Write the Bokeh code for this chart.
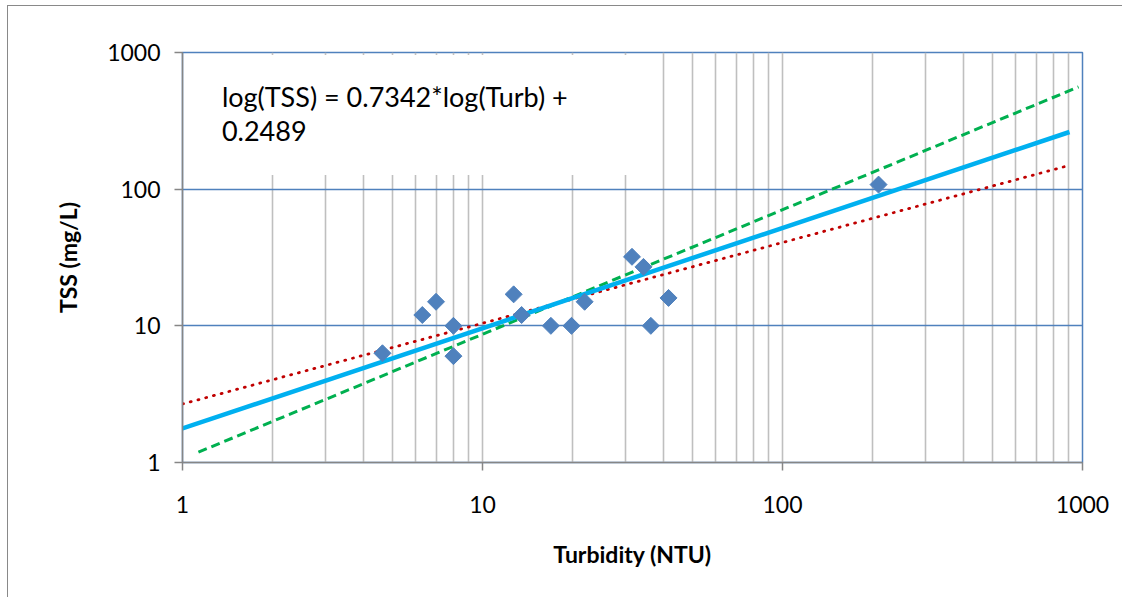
import numpy as np
from bokeh.plotting import figure
from bokeh.models import FixedTicker, NumeralTickFormatter, Label, BoxAnnotation
from bokeh.embed import file_html
from bokeh.resources import INLINE

# ---- data ----
turbidity = [4.64, 6.3, 7.0, 8.0, 8.0, 12.7, 13.5, 16.9, 19.8, 21.9, 31.5, 34.4, 36.4, 41.7, 209]
tss = [6.3, 12, 15, 10, 6, 17, 12, 10, 10, 15, 32, 27, 10, 16, 108]

fit_x = [1, 905]
fit_y = [1.774, 262]
upper_x = [1.13, 970]
upper_y = [1.19, 560]
lower_x = [1, 880]
lower_y = [2.68, 147]

x_major = [1, 10, 100, 1000]
x_minor = [2, 3, 4, 5, 6, 7, 8, 9, 20, 30, 40, 50, 60, 70, 80, 90,
           200, 300, 400, 500, 600, 700, 800, 900]
y_major = [1, 10, 100, 1000]

equation_line1 = "log(TSS) = 0.7342*log(Turb) +"
equation_line2 = "0.2489"

FONT = "Lato"

p = figure(width=1122, height=597, x_axis_type="log", y_axis_type="log",
           x_range=(1, 1000), y_range=(1, 1000),
           output_backend="svg", toolbar_location=None,
           min_border_left=182, min_border_right=40,
           min_border_top=52, min_border_bottom=135,
           x_axis_label="Turbidity (NTU)", y_axis_label="TSS (mg/L)")
p.styles = {"box-shadow": "inset 7px 5px 0 0 white, inset 8px 6px 0 0 #898989"}
p.background_fill_color = "white"
p.border_fill_color = None
p.outline_line_color = "#4F81BD"
p.outline_line_width = 1.5

xt = FixedTicker(ticks=x_major, minor_ticks=x_minor)
yt = FixedTicker(ticks=y_major, minor_ticks=[])
p.xaxis.ticker = xt
p.yaxis.ticker = yt
p.xgrid.ticker = xt
p.ygrid.ticker = yt

p.xgrid.grid_line_color = "#BFBFBF"
p.xgrid.grid_line_width = 1.6
p.xgrid.minor_grid_line_color = "#BFBFBF"
p.xgrid.minor_grid_line_width = 1.6
p.ygrid.grid_line_color = "#4F81BD"
p.ygrid.grid_line_width = 1.5
p.ygrid.minor_grid_line_color = None

for ax in (p.xaxis[0], p.yaxis[0]):
    ax.formatter = NumeralTickFormatter(format="0")
    ax.axis_line_color = "#868686"
    ax.axis_line_width = 1.5
    ax.major_tick_line_color = "#868686"
    ax.major_tick_line_width = 1.5
    ax.major_tick_out = 8
    ax.major_tick_in = 0
    ax.minor_tick_out = 0
    ax.minor_tick_in = 0
    ax.major_label_text_font = FONT
    ax.major_label_text_font_size = "23px"
    ax.major_label_text_color = "black"
    ax.axis_label_text_font = FONT
    ax.axis_label_text_font_size = "23px"
    ax.axis_label_text_font_style = "bold"
    ax.axis_label_text_color = "black"

p.xaxis.major_label_standoff = 25
p.yaxis.major_label_standoff = 14
p.xaxis.axis_label_standoff = 24
p.yaxis.axis_label_standoff = 22

# equation text box (white background covering gridlines)
box = BoxAnnotation(left=1.05, right=35, bottom=127, top=957,
                    fill_color="white", fill_alpha=1.0, line_color=None)
p.add_layout(box)

# trend lines
p.line(lower_x, lower_y, line_color="#C00000", line_width=2.8,
       line_dash="1 7", line_cap="round")
p.line(upper_x, upper_y, line_color="#00B050", line_width=3,
       line_dash="9 5")
p.line(fit_x, fit_y, line_color="#00B0F0", line_width=4.5)

# data points (diamonds)
p.scatter(turbidity, tss, marker="square", size=12, angle=np.pi / 4,
          fill_color="#4F81BD", line_color="#4F81BD")

lab1 = Label(x=1.353, y=474, text=equation_line1, text_font=FONT,
             text_font_size="27px", text_color="black",
             text_baseline="alphabetic", text_align="left")
lab2 = Label(x=1.353, y=267, text=equation_line2, text_font=FONT,
             text_font_size="27px", text_color="black",
             text_baseline="alphabetic", text_align="left")
p.add_layout(lab1)
p.add_layout(lab2)

open("out.html", "w").write(file_html(p, INLINE))
